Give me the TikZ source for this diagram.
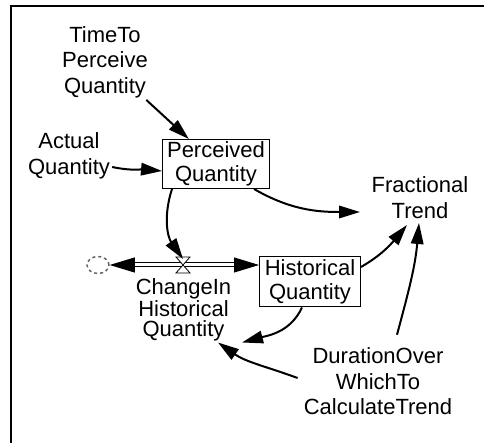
\documentclass[tikz,border=0pt]{standalone}
\usepackage{fontspec}
\setmainfont{Liberation Sans}
\usetikzlibrary{arrows.meta,shapes.geometric}
\begin{document}
\begin{tikzpicture}[x=1pt,y=1pt,
  lbl/.style={align=center, inner sep=2pt, font=\fontsize{22}{25.5}\selectfont},
  flowlbl/.style={align=center, inner sep=2pt, font=\fontsize{22}{20.5}\selectfont},
  stock/.style={draw, line width=1pt, align=center, inner sep=1pt,
    font=\fontsize{22}{24.5}\selectfont},
  arr/.style={line width=2pt, -{Triangle[length=21pt,width=12.5pt]}},
  pipe/.style={line width=1pt, double=white, double distance=3pt,
    -{Triangle[length=25pt,width=15pt]}},
  cloudst/.style={ellipse, draw=gray!80!black, dashed, line width=1.5pt,
    minimum width=22pt, minimum height=17pt, inner sep=0pt},
  valvest/.style={draw, line width=0.8pt, fill=white}
]
\useasboundingbox (0,0) rectangle (484,443);
% frame
\draw[line width=2pt] (11,0) -- (11,437) -- (484,437);

% nodes
\node[lbl] (ttpq) at (105,381) {TimeTo\\Perceive\\Quantity};
\node[lbl] (aq) at (69,287) {Actual\\Quantity};
\node[stock, minimum width=107pt, minimum height=49pt] (pq) at (216,279) {Perceived\\Quantity};
\node[lbl] (ft) at (420,245.5) {Fractional\\Trend};
\node[stock, minimum width=101pt, minimum height=50pt] (hist) at (310,161) {Historical\\Quantity};
\node[lbl] (dur) at (378,61.5) {DurationOver\\WhichTo\\CalculateTrend};
\node[flowlbl] (chq) at (183.5,133) {ChangeIn\\Historical\\Quantity};
\node[cloudst] (cloud) at (98,178) {};
\coordinate (valve) at (183,178);

% flow pipe
\draw[pipe] (valve) -- (cloud);
\draw[pipe] (valve) -- (valve -| hist.west);
\draw[valvest] ([xshift=-7,yshift=8]valve) -- ([xshift=7,yshift=8]valve) -- (valve) -- cycle;
\draw[valvest] ([xshift=-7,yshift=-8]valve) -- ([xshift=7,yshift=-8]valve) -- (valve) -- cycle;

% connectors
\draw[arr] (ttpq) -- (pq);
\draw[arr] ([yshift=-11]aq.east) to[out=-12,in=175] ([yshift=-7]pq.west);
\draw[arr] ([xshift=-44]pq.south) to[out=-108,in=125] ([yshift=6]valve);
\draw[arr] ([xshift=38]pq.south) to[out=-30,in=180] ([shift={(-60,-14.5)}]ft.center);
\draw[arr] ([yshift=15]hist.east) to[out=30,in=-130] ([shift={(-13,-27.5)}]ft.center);
\draw[arr] ([shift={(19,11)}]dur.north) to[out=75,in=-95] ([shift={(-1,-25.5)}]ft.center);
\draw[arr] ([xshift=-8]hist.south) to[out=-115,in=15] ([shift={(58.5,-32.5)}]chq.center);
\draw[arr] ([shift={(-4,3.5)}]dur.west) to[out=160,in=-35] ([shift={(34.5,-32.5)}]chq.center);
\end{tikzpicture}
\end{document}
